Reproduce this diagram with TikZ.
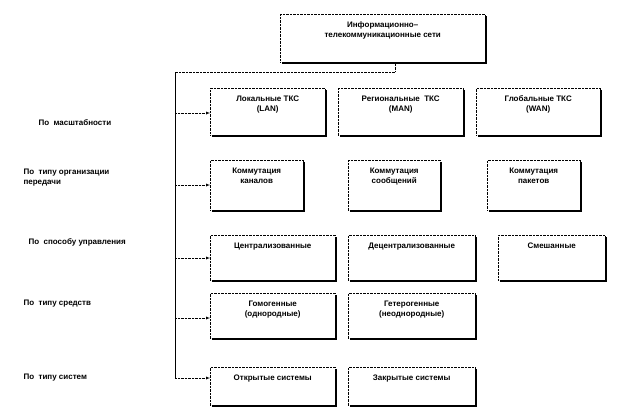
\documentclass[tikz,border=0pt]{standalone}
\usepackage{fontspec}
\setmainfont{Liberation Sans}
\begin{document}
\begin{tikzpicture}[x=1pt,y=-1pt,
  bx/.style={draw,densely dotted,fill=white,font=\bfseries\fontsize{8}{10}\selectfont,align=center,anchor=north west,inner sep=0pt},
  lab/.style={font=\bfseries\fontsize{8}{10}\selectfont,align=left,anchor=west},
  con/.style={densely dotted,-latex}]
\useasboundingbox (0,0) rectangle (629,408);
\newcommand{\mybox}[6]{% name x1 y1 x2 y2 text
  \fill[black] (#2+2,#3+2) rectangle (#4+2,#5+2);
  \node[bx,minimum width=#4-#2,minimum height=#5-#3] (#1) at (#2,#3) {};
  \node[font=\bfseries\fontsize{8}{10}\selectfont,align=center,anchor=north] at (#1.north) [yshift=-4pt] {#6};}
\mybox{top}{280}{14}{485}{62}{Информационно–\\телекоммуникационные сети}
\mybox{a1}{210}{88}{325}{135}{Локальные ТКС\\(LAN)}
\mybox{a2}{338}{88}{463}{135}{Региональные \ ТКС\\(MAN)}
\mybox{a3}{476}{88}{600}{135}{Глобальные ТКС\\(WAN)}
\mybox{b1}{210}{160}{303}{210}{Коммутация\\каналов}
\mybox{b2}{348}{160}{440}{210}{Коммутация\\сообщений}
\mybox{b3}{487}{160}{580}{210}{Коммутация\\пакетов}
\mybox{c1}{210}{235}{335}{280}{Централизованные}
\mybox{c2}{348}{235}{475}{280}{Децентрализованные}
\mybox{c3}{498}{235}{605}{280}{Смешанные}
\mybox{d1}{210}{293}{335}{338}{Гомогенные\\(однородные)}
\mybox{d2}{348}{293}{475}{338}{Гетерогенные\\(неоднородные)}
\mybox{e1}{210}{367}{335}{405}{Открытые системы}
\mybox{e2}{348}{367}{475}{405}{Закрытые системы}
\coordinate (t1) at (395,72);
\coordinate (t2) at (175,72);
\coordinate (t3) at (175,378);
\draw[densely dotted] (top.south -| t1) -- (t1) -- (t2);
\draw (t2) -- (t3);
\draw[con] (175,113) -- (a1.west |- 0,113);
\draw[con] (175,185) -- (b1.west |- 0,185);
\draw[con] (175,258) -- (c1.west |- 0,258);
\draw[con] (175,318) -- (d1.west |- 0,318);
\draw[con] (t3) -- (e1.west |- t3);
\node[lab] (l1) at (35,123) {По \ масштабности};
\node[lab] (l2) at (20,178) {По \ типу организации\\передачи};
\node[lab] (l3) at (25,242) {По \ способу управления};
\node[lab] (l4) at (20,304) {По \ типу средств};
\node[lab] (l5) at (20,378) {По \ типу систем};
\end{tikzpicture}
\end{document}
